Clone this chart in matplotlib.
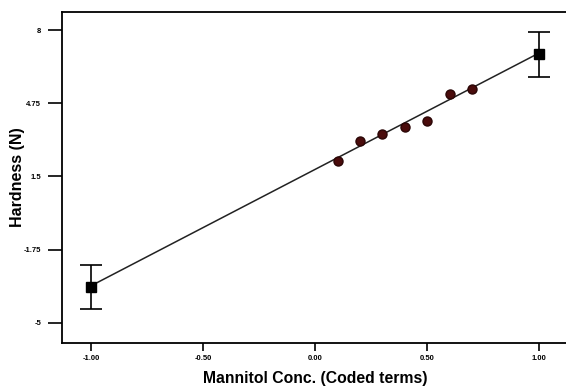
import matplotlib
matplotlib.use("Agg")
import matplotlib.pyplot as plt

# coded mannitol level vs predicted hardness (N)
design_x = [-1.0, 1.0]
design_y = [-3.40, 6.93]
design_err = [0.98, 1.0]

fit_x = [-1.0, 1.0]
fit_y = [-3.35, 6.98]

actual_x = [0.10, 0.20, 0.30, 0.40, 0.50, 0.60, 0.70]
actual_y = [2.17, 3.07, 3.38, 3.68, 3.96, 5.16, 5.37]

xticks = [-1.0, -0.5, 0.0, 0.5, 1.0]
xticklabels = ["-1.00", "-0.50", "0.00", "0.50", "1.00"]
yticks = [-5, -1.75, 1.5, 4.75, 8]
yticklabels = ["-5", "-1.75", "1.5", "4.75", "8"]

plt.rcParams["font.family"] = ["Liberation Sans", "DejaVu Sans"]

fig = plt.figure(figsize=(5.66, 3.87), dpi=100)
ax = fig.add_axes([0.1095, 0.1137, 0.8905, 0.8553])

ax.plot(fit_x, fit_y, color="#222222", lw=1.1, zorder=2)
ax.errorbar(design_x, design_y, yerr=design_err, fmt="s", color="black",
            ms=7, capsize=8, elinewidth=1.2, capthick=1.2, zorder=3)
ax.plot(actual_x, actual_y, "o", color="#4a0c0c", mec="#2a0505", ms=6.5, zorder=4)

ax.set_xlim(-1.13, 1.12)
ax.set_ylim(-5.89, 8.80)
ax.set_xticks(xticks)
ax.set_xticklabels(xticklabels, fontsize=5.5, fontweight="bold")
ax.set_yticks(yticks)
ax.set_yticklabels(yticklabels, fontsize=5.5, fontweight="bold")
ax.tick_params(axis="y", length=10, width=1.2, pad=5)
ax.tick_params(axis="x", length=6, width=1.2, pad=3)

for s in ["left", "bottom", "top"]:
    ax.spines[s].set_linewidth(1.3)
ax.spines["right"].set_visible(False)

ax.set_xlabel("Mannitol Conc. (Coded terms)", fontsize=11.3, fontweight="bold", va="center")
ax.set_ylabel("Hardness (N)", fontsize=11.5, fontweight="bold", va="center")
ax.xaxis.set_label_coords(0.503, -0.108)
ax.yaxis.set_label_coords(-0.088, 0.5)

fig.savefig("out.png", dpi=100)
